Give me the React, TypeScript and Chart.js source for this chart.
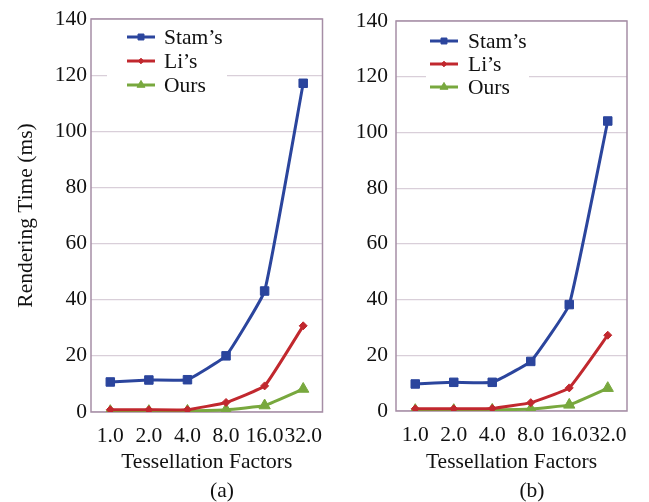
import React, { useEffect, useRef } from "react";
import { Chart, registerables } from "chart.js";

Chart.register(...registerables);

const categories = ["1.0", "2.0", "4.0", "8.0", "16.0", "32.0"];
const seriesNames = ["Stam\u2019s", "Li\u2019s", "Ours"];
const stamA = [10.7, 11.4, 11.5, 20.0, 43.1, 117.1];
const liA = [0.8, 0.8, 0.8, 3.4, 9.3, 30.7];
const oursA = [0.3, 0.3, 0.4, 0.8, 2.3, 8.2];
const stamB = [9.7, 10.3, 10.3, 17.8, 38.2, 104.1];
const liB = [0.8, 0.8, 0.9, 3.0, 8.3, 27.2];
const oursB = [0.3, 0.3, 0.4, 0.7, 2.2, 8.2];
const yTicks = [0, 20, 40, 60, 80, 100, 120, 140];

const COLORS = ["#2b459d", "#c1282e", "#78a83e"];
const POINT_STYLES = ["rect", "rectRot", "triangle"];
const POINT_RADII = [6, 4, 6.5];
const FONT = "'Liberation Serif', 'Times New Roman', serif";
const FS = 21.5;
const FRAME = "#a68ea6";
const GRID = "#d9cfd9";

type PanelProps = {
  left: number;
  width: number;
  data: number[][];
  yTitle: string | null;
  axisLeft: number;
  padRight: number;
  padTop: number;
  axisBottomHeight: number;
  tickPad: number;
  legend: { lineX: number; textX: number; y0: number; dy: number; box: [number, number, number, number] };
};

function Panel(p: PanelProps) {
  const ref = useRef<HTMLCanvasElement | null>(null);
  useEffect(() => {
    const canvas = ref.current;
    if (!canvas) return;
    const framePlugin = {
      id: "frame",
      beforeDatasetsDraw(chart: any) {
        const { ctx, chartArea: a } = chart;
        ctx.save();
        ctx.strokeStyle = FRAME;
        ctx.lineWidth = 1.5;
        ctx.strokeRect(a.left, a.top, a.right - a.left, a.bottom - a.top);
        ctx.restore();
      },
    };
    const legendPlugin = {
      id: "innerLegend",
      afterDatasetsDraw(chart: any) {
        const { ctx } = chart;
        const L = p.legend;
        ctx.save();
        ctx.fillStyle = "#ffffff";
        ctx.fillRect(L.box[0], L.box[1], L.box[2], L.box[3]);
        chart.data.datasets.forEach((ds: any, i: number) => {
          const y = L.y0 + i * L.dy;
          const cx = L.lineX + 14;
          ctx.strokeStyle = ds.borderColor;
          ctx.lineWidth = 3;
          ctx.beginPath();
          ctx.moveTo(L.lineX, y);
          ctx.lineTo(L.lineX + 28, y);
          ctx.stroke();
          ctx.fillStyle = ds.borderColor;
          ctx.lineWidth = 1;
          const r = ds.pointRadius * 0.7;
          ctx.beginPath();
          if (ds.pointStyle === "rect") {
            const s = r * Math.SQRT1_2;
            ctx.rect(cx - s, y - s, 2 * s, 2 * s);
          } else if (ds.pointStyle === "rectRot") {
            ctx.moveTo(cx, y - r);
            ctx.lineTo(cx + r, y);
            ctx.lineTo(cx, y + r);
            ctx.lineTo(cx - r, y);
            ctx.closePath();
          } else {
            ctx.moveTo(cx, y - r);
            ctx.lineTo(cx + r * 0.87, y + r * 0.5);
            ctx.lineTo(cx - r * 0.87, y + r * 0.5);
            ctx.closePath();
          }
          ctx.fill();
          ctx.stroke();
          ctx.fillStyle = "#111111";
          ctx.font = `${FS}px ${FONT}`;
          ctx.textBaseline = "middle";
          ctx.textAlign = "left";
          ctx.fillText(ds.label, L.textX, y + 1);
        });
        ctx.restore();
      },
    };
    const chart = new Chart(canvas, {
      type: "line",
      data: {
        labels: categories,
        datasets: p.data.map((vals, i) => ({
          label: seriesNames[i],
          data: vals,
          borderColor: COLORS[i],
          backgroundColor: COLORS[i],
          borderWidth: 3,
          pointStyle: POINT_STYLES[i] as any,
          pointRadius: POINT_RADII[i],
          pointBorderWidth: 1,
          tension: 0.1,
          fill: false,
        })),
      },
      options: {
        animation: false,
        responsive: false,
        maintainAspectRatio: false,
        layout: { padding: { left: 0, right: p.padRight, top: p.padTop, bottom: 0 } },
        plugins: { legend: { display: false }, tooltip: { enabled: false }, title: { display: false } },
        scales: {
          x: {
            type: "category",
            offset: true,
            grid: { display: false },
            border: { display: false },
            ticks: { font: { family: FONT, size: FS }, color: "#111111", padding: 3, maxRotation: 0, autoSkip: false },
            title: {
              display: true,
              text: "Tessellation Factors",
              font: { family: FONT, size: FS },
              color: "#111111",
              padding: { top: 0, bottom: 27 },
            },
            afterFit: (scale: any) => {
              scale.height = p.axisBottomHeight;
            },
          },
          y: {
            min: 0,
            max: 140,
            afterBuildTicks: (scale: any) => {
              scale.ticks = yTicks.map((v) => ({ value: v }));
            },
            grid: { color: GRID, lineWidth: 1.2, drawTicks: false },
            border: { display: false },
            ticks: { font: { family: FONT, size: FS }, color: "#111111", padding: p.tickPad },
            title: {
              display: !!p.yTitle,
              text: p.yTitle || "",
              font: { family: FONT, size: FS },
              color: "#111111",
              padding: { top: 13, bottom: 0 },
            },
            afterFit: (scale: any) => {
              scale.width = p.axisLeft;
            },
          },
        },
      },
      plugins: [framePlugin, legendPlugin],
    } as any);
    return () => chart.destroy();
  }, []);
  return (
    <canvas
      ref={ref}
      width={p.width}
      height={502}
      style={{ position: "absolute", left: p.left, top: 0, width: p.width, height: 502 }}
    />
  );
}

const labelStyle = (cx: number): React.CSSProperties => ({
  position: "absolute",
  left: cx - 30,
  width: 60,
  top: 478,
  lineHeight: "24px",
  textAlign: "center",
  fontFamily: FONT,
  fontSize: FS,
  color: "#111111",
});

export default function App() {
  return (
    <div style={{ position: "absolute", left: 0, top: 0, width: 649, height: 502, background: "#ffffff", overflow: "hidden" }}>
      <Panel
        left={0}
        width={330}
        data={[stamA, liA, oursA]}
        yTitle="Rendering Time (ms)"
        axisLeft={91}
        padRight={5}
        padTop={19}
        axisBottomHeight={90}
        tickPad={4}
        legend={{ lineX: 127, textX: 164, y0: 37, dy: 24, box: [107, 27, 120, 70] }}
      />
      <Panel
        left={330}
        width={319}
        data={[stamB, liB, oursB]}
        yTitle={null}
        axisLeft={66}
        padRight={22}
        padTop={21}
        axisBottomHeight={91}
        tickPad={8}
        legend={{ lineX: 100, textX: 138, y0: 41, dy: 23, box: [96, 30, 103, 70] }}
      />
      <div style={labelStyle(222)}>(a)</div>
      <div style={labelStyle(532)}>(b)</div>
    </div>
  );
}
